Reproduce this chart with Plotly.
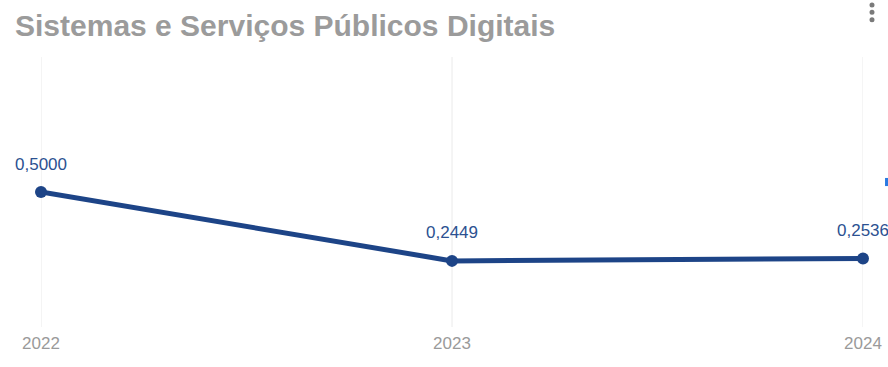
import plotly.graph_objects as go

years = [2022, 2023, 2024]
values = [0.5000, 0.2449, 0.2536]
year_labels = ["2022", "2023", "2024"]
title_text = "Sistemas e Serviços Públicos Digitais"

line_color = "#1d4487"
label_color = "#2c5191"

fig = go.Figure()
fig.add_trace(go.Scatter(
    x=years, y=values, mode="lines+markers",
    line=dict(color=line_color, width=5),
    marker=dict(color=line_color, size=12),
    hoverinfo="skip", showlegend=False, cliponaxis=False,
))

for xv, yv in zip(years, values):
    fig.add_annotation(
        x=xv, y=yv, xref="x", yref="y",
        text=f"{yv:.4f}".replace(".", ","),
        showarrow=False, yshift=28,
        font=dict(family="Liberation Sans, Arial", size=17, color=label_color),
    )

# vertical gridlines at each year
for xv in years:
    fig.add_shape(type="line", xref="x", yref="paper", x0=xv, x1=xv,
                  y0=0, y1=1, layer="below",
                  line=dict(color="#eaeaea", width=1))

# cut-off legend marker at right edge
fig.add_shape(type="rect", xref="paper", yref="paper",
              x0=1.0268, x1=1.04, y0=0.522, y1=0.552,
              fillcolor="#2a7ae2", line=dict(width=0))

# three-dot menu
for yy in [5, 12.3, 19.7]:
    yp = 1 + (57 - yy) / 270
    fig.add_shape(type="circle", xref="paper", yref="paper",
                  x0=(869.5 - 41) / 822, x1=(874.5 - 41) / 822,
                  y0=yp - 2.5 / 270, y1=yp + 2.5 / 270,
                  fillcolor="#7a7a7a", line=dict(width=0))

fig.update_layout(
    width=888, height=367,
    margin=dict(l=41, r=25, t=57, b=40, autoexpand=False),
    paper_bgcolor="white", plot_bgcolor="white",
    separators=",.",
    title=dict(text=f"<b>{title_text}</b>", x=15 / 888, xanchor="left",
               y=1 - 25 / 367, yanchor="middle",
               font=dict(family="Liberation Sans, Arial", size=30, color="#9b9b9b")),
    xaxis=dict(range=[2022, 2024], tickvals=years, ticktext=year_labels,
               showgrid=False, zeroline=False, showline=False, ticks="",
               ticklabelstandoff=4, automargin=False,
               tickfont=dict(family="Liberation Sans, Arial", size=17, color="#9a9a9a")),
    yaxis=dict(range=[0, 1], visible=False, showgrid=False, zeroline=False,
               automargin=False),
)

fig.write_html("out.html", config={"displayModeBar": False},
               post_script="document.body.style.margin='0px';")
